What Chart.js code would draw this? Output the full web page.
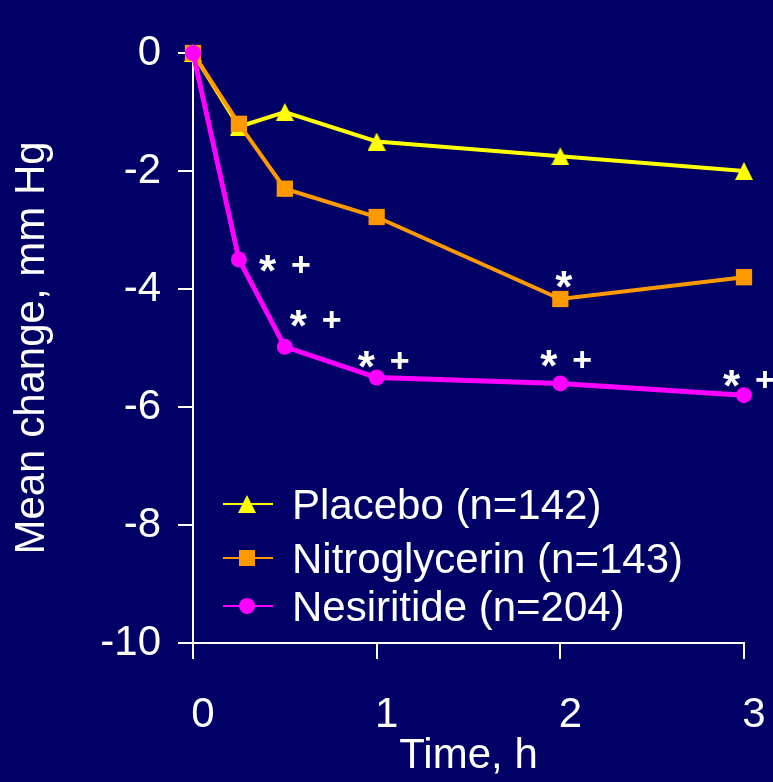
<!DOCTYPE html>
<html>
<head>
<meta charset="utf-8">
<script src="https://cdn.jsdelivr.net/npm/chart.js@4/dist/chart.umd.min.js"></script>
<style>
  html, body { margin: 0; padding: 0; background: #000066; }
  #wrap { width: 773px; height: 782px; }
</style>
</head>
<body>
<div id="wrap"><canvas id="c" width="773" height="782"></canvas></div>
<script>
// Time after start of infusion (hours)
const hours = [0, 0.25, 0.5, 1, 2, 3];

// Mean change from baseline, mm Hg
const placebo       = [0, -1.25, -1.0, -1.5, -1.75, -2.0];
const nitroglycerin = [0, -1.2, -2.3, -2.78, -4.17, -3.8];
const nesiritide    = [0, -3.5, -4.98, -5.5, -5.6, -5.8];

const seriesNames = ['Placebo (n=142)', 'Nitroglycerin (n=143)', 'Nesiritide (n=204)'];
const seriesColors = ['#FFFF00', '#FF9900', '#FF00FF'];

const xTicks = [0, 1, 2, 3];
const yTicks = [0, -2, -4, -6, -8, -10];

// Significance marks per time point: * vs placebo, + vs nitroglycerin
const nesiritideMarks    = ['', '* +', '* +', '* +', '* +', '* +'];
const nitroglycerinMarks = ['', '', '', '', '*', ''];

const FONT = '"Liberation Sans", Arial, Helvetica, sans-serif';
const WHITE = '#FFFFFF';
const BG = '#000066';

// Triangle drawn into its own canvas so the marker is centred on its bounding box
function triangleImage(size, color) {
  const c = document.createElement('canvas');
  c.width = size; c.height = size;
  const g = c.getContext('2d');
  g.fillStyle = color;
  g.beginPath();
  g.moveTo(size / 2, 0);
  g.lineTo(size, size);
  g.lineTo(0, size);
  g.closePath();
  g.fill();
  return c;
}
const triangle = triangleImage(18, seriesColors[0]);

function toPoints(values) {
  return values.map((v, i) => ({ x: hours[i], y: v }));
}

const background = {
  id: 'background',
  beforeDraw(chart) {
    const ctx = chart.ctx;
    ctx.save();
    ctx.fillStyle = BG;
    ctx.fillRect(0, 0, chart.width, chart.height);
    ctx.restore();
  }
};

// Draw one glyph with its ink box centred on (cx, cy)
function drawGlyph(ctx, ch, cx, cy, font) {
  ctx.font = font;
  ctx.textAlign = 'left';
  ctx.textBaseline = 'alphabetic';
  const m = ctx.measureText(ch);
  const x = cx - (m.actualBoundingBoxRight - m.actualBoundingBoxLeft) / 2;
  const y = cy + (m.actualBoundingBoxAscent - m.actualBoundingBoxDescent) / 2;
  ctx.fillText(ch, x, y);
}

// Offsets (px) of the "*" from its data point; "+" sits 33px further right
const nesiritideMarkOffsets = [null, [29, 4], [14, -28], [-10, -18], [-11, -25], [-12, -17]];
const nitroglycerinMarkOffsets = [null, null, null, null, [4, -20], null];

const significance = {
  id: 'significance',
  afterDatasetsDraw(chart) {
    const ctx = chart.ctx;
    ctx.save();
    ctx.fillStyle = WHITE;
    const sets = [
      { idx: 2, marks: nesiritideMarks, offs: nesiritideMarkOffsets },
      { idx: 1, marks: nitroglycerinMarks, offs: nitroglycerinMarkOffsets }
    ];
    sets.forEach(s => {
      const meta = chart.getDatasetMeta(s.idx);
      s.marks.forEach((txt, i) => {
        if (!txt) return;
        const el = meta.data[i];
        const [dx, dy] = s.offs[i];
        txt.split(' ').forEach((sym, k) => {
          if (sym === '*') {
            drawGlyph(ctx, '*', el.x + dx, el.y + dy, 'bold 44px ' + FONT);
          } else if (sym === '+') {
            drawGlyph(ctx, '+', el.x + dx + 33 * k, el.y + dy + 1, 'bold 34px ' + FONT);
          }
        });
      });
    });
    ctx.restore();
  }
};

// Legend inside the plot, lower left
const insideLegend = {
  id: 'insideLegend',
  afterDraw(chart) {
    const ctx = chart.ctx;
    const area = chart.chartArea;
    const rows = [area.bottom - 139, area.bottom - 85, area.bottom - 37];
    const lineX0 = area.left + 30, lineX1 = area.left + 80, mx = area.left + 54;
    const textX = area.left + 99;
    ctx.save();
    seriesNames.forEach((name, i) => {
      const y = rows[i];
      ctx.strokeStyle = seriesColors[i];
      ctx.lineWidth = 2;
      ctx.beginPath();
      ctx.moveTo(lineX0, y);
      ctx.lineTo(lineX1, y);
      ctx.stroke();
      ctx.fillStyle = seriesColors[i];
      if (i === 0) {
        ctx.drawImage(triangle, mx - 9, y - 9);
      } else if (i === 1) {
        ctx.fillRect(mx - 8, y - 8, 16, 16);
      } else {
        ctx.beginPath();
        ctx.arc(mx, y, 8, 0, Math.PI * 2);
        ctx.fill();
      }
      ctx.fillStyle = WHITE;
      ctx.font = '42px ' + FONT;
      ctx.textAlign = 'left';
      ctx.textBaseline = 'middle';
      ctx.fillText(name, textX, y + 3);
    });
    ctx.restore();
  }
};

new Chart(document.getElementById('c'), {
  type: 'line',
  data: {
    datasets: [
      {
        label: seriesNames[0], data: toPoints(placebo), order: 3,
        borderColor: seriesColors[0], backgroundColor: seriesColors[0], borderWidth: 4,
        pointStyle: triangle, pointRadius: 9, tension: 0, clip: false
      },
      {
        label: seriesNames[1], data: toPoints(nitroglycerin), order: 2,
        borderColor: seriesColors[1], backgroundColor: seriesColors[1], borderWidth: 4,
        pointStyle: 'rect', pointRadius: 11.5, pointBorderWidth: 0, tension: 0, clip: false
      },
      {
        label: seriesNames[2], data: toPoints(nesiritide), order: 1,
        borderColor: seriesColors[2], backgroundColor: seriesColors[2], borderWidth: 5,
        pointStyle: 'circle', pointRadius: 8, pointBorderWidth: 0, tension: 0, clip: false
      }
    ]
  },
  options: {
    responsive: false,
    animation: false,
    devicePixelRatio: 1,
    layout: { padding: { left: 0, top: 53, right: 29, bottom: 0 } },
    plugins: { legend: { display: false }, tooltip: { enabled: false } },
    scales: {
      x: {
        type: 'linear',
        min: xTicks[0], max: xTicks[xTicks.length - 1],
        afterBuildTicks: s => { s.ticks = xTicks.map(v => ({ value: v })); },
        afterFit: s => { s.height = 139; s.paddingLeft = 0; s.paddingRight = 0; },
        ticks: {
          color: WHITE, font: { family: FONT, size: 42 }, padding: 31, labelOffset: 10,
          callback: v => String(v)
        },
        grid: { drawOnChartArea: false, drawTicks: true, tickLength: 16, color: WHITE, lineWidth: 2 },
        border: { display: true, color: WHITE, width: 2 },
        title: { display: true, text: 'Time, h', color: WHITE, font: { family: FONT, size: 42 }, padding: 0 }
      },
      y: {
        type: 'linear',
        min: yTicks[yTicks.length - 1], max: yTicks[0],
        afterBuildTicks: s => { s.ticks = yTicks.map(v => ({ value: v })); },
        afterFit: s => { s.width = 193; s.paddingTop = 0; s.paddingBottom = 0; },
        ticks: {
          color: WHITE, font: { family: FONT, size: 42 }, padding: 17,
          callback: v => String(v)
        },
        grid: { drawOnChartArea: false, drawTicks: true, tickLength: 15, color: WHITE, lineWidth: 2 },
        border: { display: true, color: WHITE, width: 2 },
        title: { display: true, text: 'Mean change, mm Hg', color: WHITE, font: { family: FONT, size: 42 }, padding: { top: 7, bottom: 0 } }
      }
    }
  },
  plugins: [background, significance, insideLegend]
});
</script>
</body>
</html>
